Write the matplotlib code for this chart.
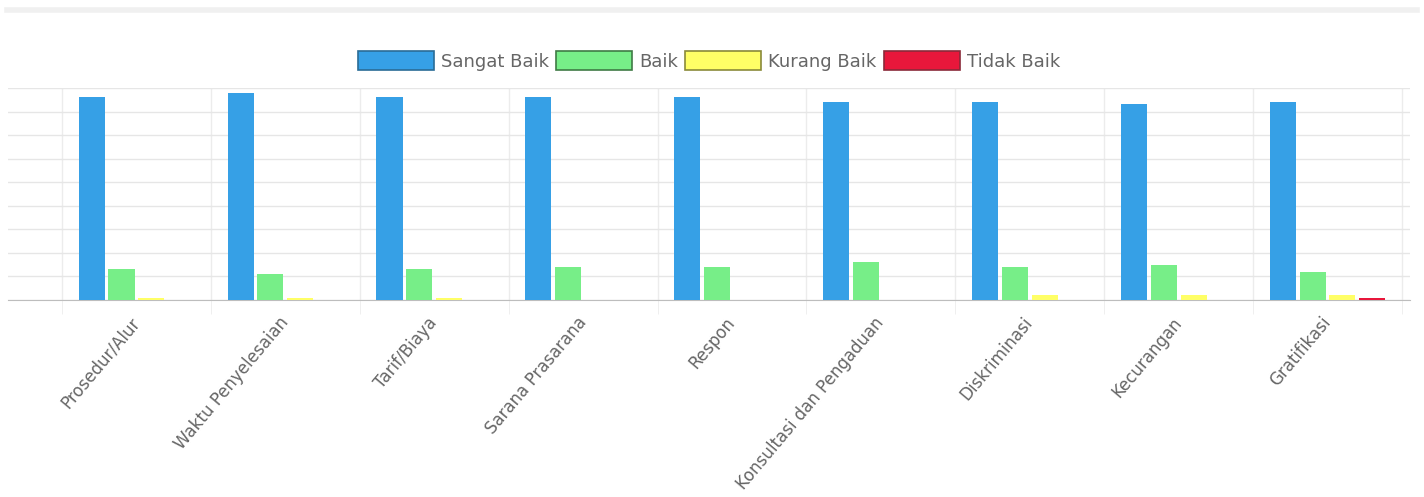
#!/usr/bin/env python3

import numpy as np
import matplotlib.pyplot as plt
from matplotlib.patches import Patch

# Data (percent of respondents per category)
categories = ["Prosedur/Alur", "Waktu Penyelesaian", "Tarif/Biaya", "Sarana Prasarana",
              "Respon", "Konsultasi dan Pengaduan", "Diskriminasi", "Kecurangan", "Gratifikasi"]
series_names = ["Sangat Baik", "Baik", "Kurang Baik", "Tidak Baik"]
sangat_baik = [86, 88, 86, 86, 86, 84, 84, 83, 84]
baik = [13, 11, 13, 14, 14, 16, 14, 15, 12]
kurang_baik = [1, 1, 1, 0, 0, 0, 2, 2, 2]
tidak_baik = [0, 0, 0, 0, 0, 0, 0, 0, 1]

fill_colors = ["#36a0e6", "#77ee88", "#ffff66", "#e8173b"]
edge_colors = ["#2a6c96", "#3f7a45", "#8a8a3a", "#8a2a3a"]

plt.rcParams['font.family'] = ['DejaVu Sans']

fig = plt.figure(figsize=(14.24, 4.97), dpi=100)
ax = fig.add_axes([8 / 1424, 1 - 300 / 497, 1402 / 1424, 212 / 497])

x = np.arange(len(categories))
step = 0.2
width = 0.175
all_series = [sangat_baik, baik, kurang_baik, tidak_baik]
for i, vals in enumerate(all_series):
    ax.bar(x + (i - 1.5) * step, vals, width, color=fill_colors[i], zorder=3)

ax.set_ylim(0, 90)
ax.set_xlim(-0.5 - 54 / 149, 8.5 + 8 / 149)

# horizontal grid
ax.set_yticks(np.arange(0, 91, 10))
ax.tick_params(axis='y', length=0, labelleft=False)
ax.grid(axis='y', color='#e6e6e6', linewidth=1, zorder=0)

# vertical category grid lines
ax.set_xticks(np.arange(-0.5, 9, 1), minor=True)
ax.grid(axis='x', which='minor', color='#ececec', linewidth=1, zorder=0)
ax.tick_params(axis='x', which='minor', length=10, color='#ececec')

ax.set_xticks(x)
ax.set_xticklabels(categories, rotation=50, ha='right', va='center',
                   rotation_mode='anchor', fontsize=12, color='#666666')
ax.tick_params(axis='x', which='major', length=0, pad=14)

for side in ['top', 'right', 'left']:
    ax.spines[side].set_visible(False)
ax.spines['bottom'].set_color('#bdbdbd')

# faint band at the very top
fig.add_artist(plt.Line2D([0.005, 0.995], [1 - 10 / 497, 1 - 10 / 497],
                          color='#f0f0f0', linewidth=4))

handles = [Patch(facecolor=fill_colors[i], edgecolor=edge_colors[i], linewidth=1.2)
           for i in range(4)]
fig.legend(handles, series_names, loc='center', bbox_to_anchor=(709 / 1424, 1 - 61 / 497),
           ncol=4, frameon=False, fontsize=13, handlelength=4.2, handleheight=1.2,
           handletextpad=0.4, columnspacing=0.4, labelcolor='#666666')

plt.savefig('out.png', dpi=100)
